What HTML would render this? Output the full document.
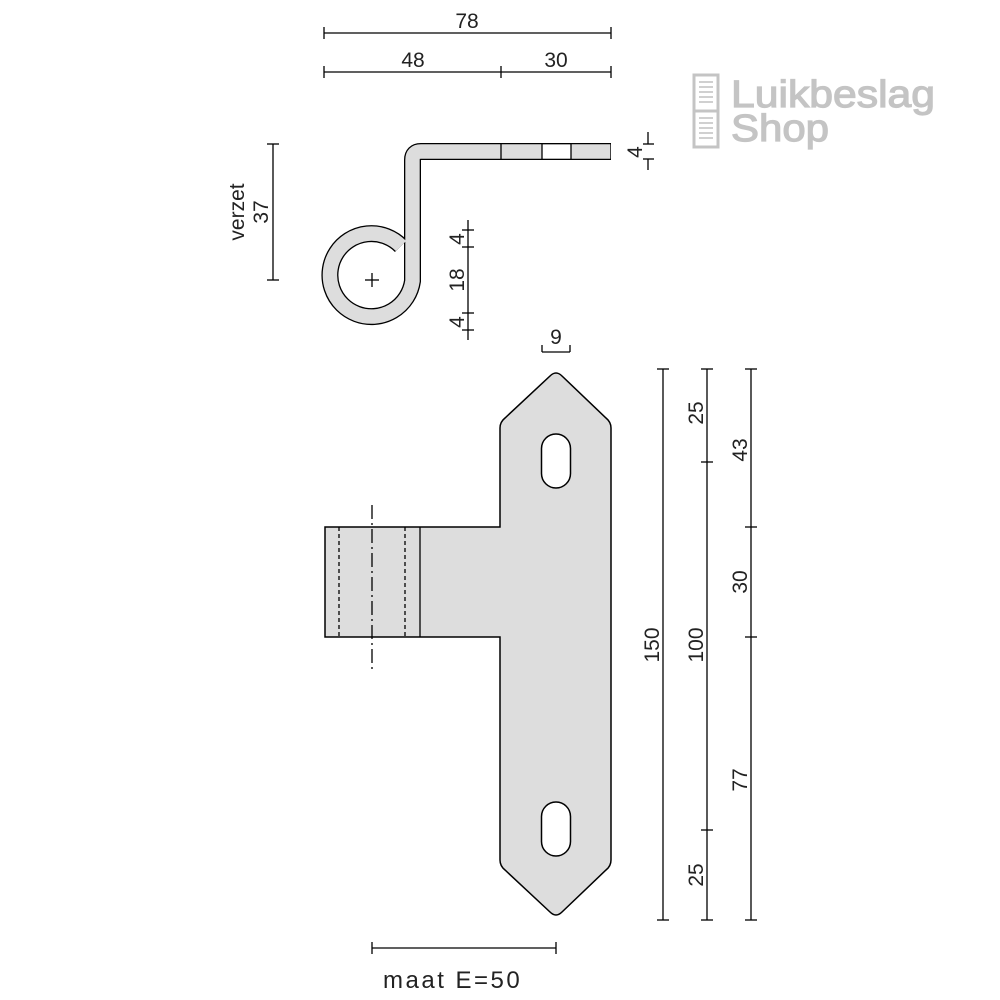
<!DOCTYPE html>
<html><head><meta charset="utf-8"><style>
html,body{margin:0;padding:0;background:#fff}
svg{display:block}
text{font-family:"Liberation Sans",sans-serif;fill:#222;font-size:21px}
</style></head><body>
<svg width="1000" height="1000" viewBox="0 0 1000 1000">
<g stroke="#000" stroke-width="1.3" fill="none">
<line x1="324" y1="33" x2="611" y2="33"/><line x1="324" y1="27" x2="324" y2="39"/><line x1="611" y1="27" x2="611" y2="39"/>
<line x1="324" y1="72" x2="611" y2="72"/><line x1="324" y1="66" x2="324" y2="78"/><line x1="501" y1="66" x2="501" y2="78"/><line x1="611" y1="66" x2="611" y2="78"/>
<line x1="273" y1="144" x2="273" y2="280"/><line x1="267" y1="144" x2="279" y2="144"/><line x1="267" y1="280" x2="279" y2="280"/>
<line x1="648" y1="132" x2="648" y2="144"/><line x1="648" y1="159" x2="648" y2="170"/><line x1="643" y1="144" x2="654" y2="144"/><line x1="643" y1="159" x2="654" y2="159"/>
<line x1="468" y1="220" x2="468" y2="340"/>
<line x1="462" y1="230" x2="474" y2="230"/><line x1="462" y1="247" x2="474" y2="247"/><line x1="462" y1="313" x2="474" y2="313"/><line x1="462" y1="330" x2="474" y2="330"/>
</g>
<path d="M401,246 A41.5,41.5 0 1,0 412.5,281 L412.5,160 Q412.5,151.5 421,151.5 L611,151.5" fill="none" stroke="#000" stroke-width="17"/>
<path d="M401,246 A41.5,41.5 0 1,0 412.5,281 L412.5,160 Q412.5,151.5 421,151.5 L610.3,151.5" fill="none" stroke="#ddd" stroke-width="14.4"/>
<rect x="542" y="145" width="29" height="13.4" fill="#fff"/>
<g stroke="#000" stroke-width="1.3"><line x1="501" y1="144" x2="501" y2="159"/><line x1="542" y1="144" x2="542" y2="159"/><line x1="571" y1="144" x2="571" y2="159"/>
<line x1="365" y1="280" x2="379" y2="280"/><line x1="372" y1="273" x2="372" y2="287"/></g>
<path d="M500,527 L500,428 Q500,422 505,418 L550,376 Q556,370 562,376 L606,418 Q611,422 611,428 L611,860 Q611,866 606,870 L562,912 Q556,918 550,912 L505,870 Q500,866 500,860 L500,637 L325,637 L325,527 Z" fill="#ddd" stroke="#000" stroke-width="1.5"/>
<rect x="541.5" y="434" width="29" height="54" rx="14.5" fill="#fff" stroke="#000" stroke-width="1.5"/>
<rect x="541.5" y="802" width="29" height="54" rx="14.5" fill="#fff" stroke="#000" stroke-width="1.5"/>
<g stroke="#000" stroke-width="1.3" fill="none">
<line x1="420" y1="527" x2="420" y2="637"/>
<line x1="339" y1="527" x2="339" y2="637" stroke-dasharray="4,3"/>
<line x1="405" y1="527" x2="405" y2="637" stroke-dasharray="4,3"/>
<line x1="372" y1="505" x2="372" y2="670" stroke-dasharray="14,4,2,4"/>
<line x1="542" y1="352" x2="570" y2="352"/><line x1="542" y1="345" x2="542" y2="352"/><line x1="570" y1="345" x2="570" y2="352"/>
<line x1="663" y1="369" x2="663" y2="920"/><line x1="657" y1="369" x2="669" y2="369"/><line x1="657" y1="920" x2="669" y2="920"/>
<line x1="707" y1="369" x2="707" y2="920"/><line x1="701" y1="369" x2="713" y2="369"/><line x1="701" y1="462" x2="713" y2="462"/><line x1="701" y1="830" x2="713" y2="830"/><line x1="701" y1="920" x2="713" y2="920"/>
<line x1="751" y1="369" x2="751" y2="920"/><line x1="745" y1="369" x2="757" y2="369"/><line x1="745" y1="527" x2="757" y2="527"/><line x1="745" y1="637" x2="757" y2="637"/><line x1="745" y1="920" x2="757" y2="920"/>
<line x1="372" y1="948" x2="556" y2="948"/><line x1="372" y1="942" x2="372" y2="954"/><line x1="556" y1="942" x2="556" y2="954"/>
</g>
<text x="467" y="28" text-anchor="middle">78</text>
<text x="413" y="67" text-anchor="middle">48</text>
<text x="556" y="67" text-anchor="middle">30</text>
<text x="556" y="344" text-anchor="middle">9</text>
<text transform="translate(244,212) rotate(-90)" text-anchor="middle">verzet</text>
<text transform="translate(268,212) rotate(-90)" text-anchor="middle">37</text>
<text transform="translate(642,152) rotate(-90)" text-anchor="middle">4</text>
<text transform="translate(464,239) rotate(-90)" text-anchor="middle">4</text>
<text transform="translate(464,280) rotate(-90)" text-anchor="middle">18</text>
<text transform="translate(464,322) rotate(-90)" text-anchor="middle">4</text>
<text transform="translate(659,645) rotate(-90)" text-anchor="middle">150</text>
<text transform="translate(703,413) rotate(-90)" text-anchor="middle">25</text>
<text transform="translate(703,645) rotate(-90)" text-anchor="middle">100</text>
<text transform="translate(703,875) rotate(-90)" text-anchor="middle">25</text>
<text transform="translate(747,450) rotate(-90)" text-anchor="middle">43</text>
<text transform="translate(747,582) rotate(-90)" text-anchor="middle">30</text>
<text transform="translate(747,780) rotate(-90)" text-anchor="middle">77</text>
<text x="383" y="988" style="font-size:24px;letter-spacing:2.5px">maat E=50</text>
<g fill="none" stroke="#c4c4c4" stroke-width="3">
<rect x="694" y="75" width="24" height="72"/>
<line x1="694" y1="111" x2="718" y2="111"/>
</g>
<g stroke="#c4c4c4" stroke-width="1.6">
<line x1="699" y1="82" x2="713" y2="82"/><line x1="699" y1="87" x2="713" y2="87"/><line x1="699" y1="92" x2="713" y2="92"/><line x1="699" y1="97" x2="713" y2="97"/><line x1="699" y1="102" x2="713" y2="102"/>
<line x1="699" y1="118" x2="713" y2="118"/><line x1="699" y1="123" x2="713" y2="123"/><line x1="699" y1="128" x2="713" y2="128"/><line x1="699" y1="133" x2="713" y2="133"/><line x1="699" y1="138" x2="713" y2="138"/>
</g>
<text x="731" y="107" textLength="204" lengthAdjust="spacingAndGlyphs" style="font-size:38px;fill:#c4c4c4;stroke:#c4c4c4;stroke-width:1.2">Luikbeslag</text>
<text x="731" y="141" textLength="98" lengthAdjust="spacingAndGlyphs" style="font-size:38px;fill:#c4c4c4;stroke:#c4c4c4;stroke-width:1.2">Shop</text>
</svg>
</body></html>
